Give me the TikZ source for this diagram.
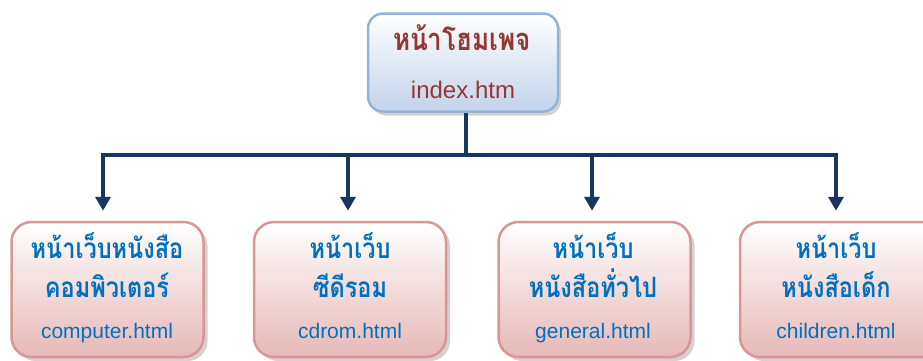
\documentclass[tikz,border=0pt]{standalone}
\usepackage{fontspec}
\setmainfont{Liberation Sans}
\newfontfamily\thaifont[Script=Thai]{Loma}
\usetikzlibrary{arrows.meta,shadows}
\definecolor{topborder}{HTML}{95B3D7}
\definecolor{topfill}{HTML}{C2D3EA}
\definecolor{toptext}{HTML}{953735}
\definecolor{boxborder}{HTML}{D99694}
\definecolor{boxfill}{HTML}{E6B8B7}
\definecolor{boxtext}{HTML}{0070C0}
\definecolor{navy}{HTML}{17375E}
\newcommand{\narrow}[1]{\scalebox{0.84}[1]{#1}}
\tikzset{
  topbox/.style={draw=topborder, line width=2.5pt, rounded corners=15pt,
    top color=white, bottom color=topfill, minimum width=190pt, minimum height=98pt,
    drop shadow={shadow xshift=3pt, shadow yshift=-4pt, fill=black!35}},
  pagebox/.style={draw=boxborder, line width=2.5pt, rounded corners=20pt,
    top color=white, bottom color=boxfill, minimum width=192pt, minimum height=135pt,
    drop shadow={shadow xshift=4pt, shadow yshift=-4pt, fill=black!35}},
  thtop/.style={anchor=base, text=toptext, font=\thaifont\bfseries\fontsize{31}{33}\selectfont},
  entop/.style={anchor=base, text=toptext, font=\fontsize{24}{26}\selectfont},
  thbox/.style={anchor=base, text=boxtext, font=\thaifont\bfseries\fontsize{28}{30}\selectfont},
  enbox/.style={anchor=base, text=boxtext, font=\fontsize{21}{23}\selectfont},
  link/.style={draw=navy, line width=4pt},
  linkarrow/.style={link, -{Triangle[width=15pt,length=14pt]}, shorten >=10pt},
}
\begin{document}
\begin{tikzpicture}[x=1pt,y=1pt]
\useasboundingbox (0,0) rectangle (923,-360);
\clip (0,0) rectangle (923,-360);
% boxes
\node[topbox] (top) at (463,-62.5) {};
\node[pagebox] (b1) at (107.5,-289.5) {};
\node[pagebox] (b2) at (350,-289.5) {};
\node[pagebox] (b3) at (594.5,-289.5) {};
\node[pagebox, minimum width=212pt] (b4) at (846,-289.5) {};
% texts
\node[thtop] (t1) at (462,-50) {\narrow{หน้าโฮมเพจ}};
\node[entop] (t2) at (463,-98) {index.htm};
\node[thbox] (a1) at (107,-258) {\narrow{หน้าเว็บหนังสือ}};
\node[thbox] (a2) at (107,-297) {\narrow{คอมพิวเตอร์}};
\node[enbox] (a3) at (107,-338) {computer.html};
\node[thbox] (c1) at (350,-258) {\narrow{หน้าเว็บ}};
\node[thbox] (c2) at (350,-297) {\narrow{ซีดีรอม}};
\node[enbox] (c3) at (350,-338) {cdrom.html};
\node[thbox] (g1) at (593,-258) {\narrow{หน้าเว็บ}};
\node[thbox] (g2) at (593,-297) {\narrow{หนังสือทั่วไป}};
\node[enbox] (g3) at (593,-338) {general.html};
\node[thbox] (k1) at (836,-258) {\narrow{หน้าเว็บ}};
\node[thbox] (k2) at (836,-297) {\narrow{หนังสือเด็ก}};
\node[enbox] (k3) at (836,-338) {children.html};
% connectors
\coordinate (bus) at (466,-154.5);
\coordinate (j1) at (103,-154.5);
\coordinate (j2) at (348,-154.5);
\coordinate (j3) at (592,-154.5);
\coordinate (j4) at (836,-154.5);
\draw[link] (top.south -| bus) -- (bus);
\draw[link, line cap=rect] (j1) -- (j4);
\draw[linkarrow] (j1) -- (j1 |- b1.north);
\draw[linkarrow] (j2) -- (j2 |- b2.north);
\draw[linkarrow] (j3) -- (j3 |- b3.north);
\draw[linkarrow] (j4) -- (j4 |- b4.north);
\end{tikzpicture}
\end{document}
